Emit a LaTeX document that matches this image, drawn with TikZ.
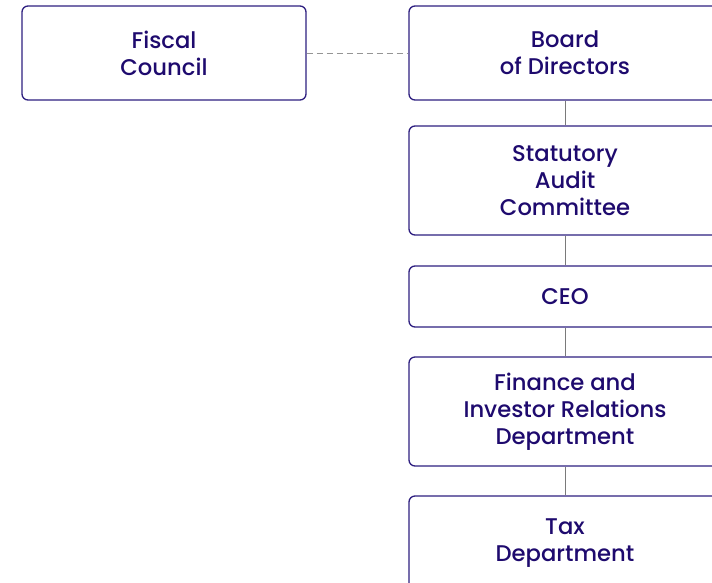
\documentclass[tikz,border=0pt]{standalone}
\usepackage{fontspec}
\setmainfont{Poppins}[UprightFont=* Medium]
\definecolor{navy}{HTML}{1E0A6E}
\definecolor{edge}{HTML}{2E1F80}
\definecolor{wire}{HTML}{7A7A7A}
\begin{document}
\begin{tikzpicture}[x=1pt,y=-1pt,
  orgbox/.style={draw=edge, line width=1.3pt, rounded corners=6pt, fill=white,
    text=navy, align=center, inner sep=0pt,
    font=\fontsize{22.7}{27}\selectfont},
  link/.style={draw=wire, line width=1pt},
  dottedlink/.style={draw=wire!80, line width=1pt, dash pattern=on 6pt off 4pt}]
\useasboundingbox (0,0) rectangle (712,582);
\clip (0,0) rectangle (712,582);

\node[orgbox, minimum width=284pt, minimum height=94pt] (fiscal) at (164,53) {Fiscal\\Council};
\node[orgbox, minimum width=312pt, minimum height=94pt] (board) at (565,53) {Board\\of Directors};
\node[orgbox, minimum width=312pt, minimum height=109pt] (audit) at (565,180.5) {Statutory\\Audit\\Committee};
\node[orgbox, minimum width=312pt, minimum height=61pt] (ceo) at (565,296.5) {CEO};
\node[orgbox, minimum width=312pt, minimum height=109pt] (finance) at (565,411.5) {Finance and\\Investor Relations\\Department};
\node[orgbox, minimum width=312pt, minimum height=94pt] (tax) at (565,543) {Tax\\Department};

\draw[dottedlink] (fiscal.east) -- (board.west);
\draw[link] (board.south) -- (audit.north);
\draw[link] (audit.south) -- (ceo.north);
\draw[link] (ceo.south) -- (finance.north);
\draw[link] (finance.south) -- (tax.north);
\end{tikzpicture}
\end{document}
